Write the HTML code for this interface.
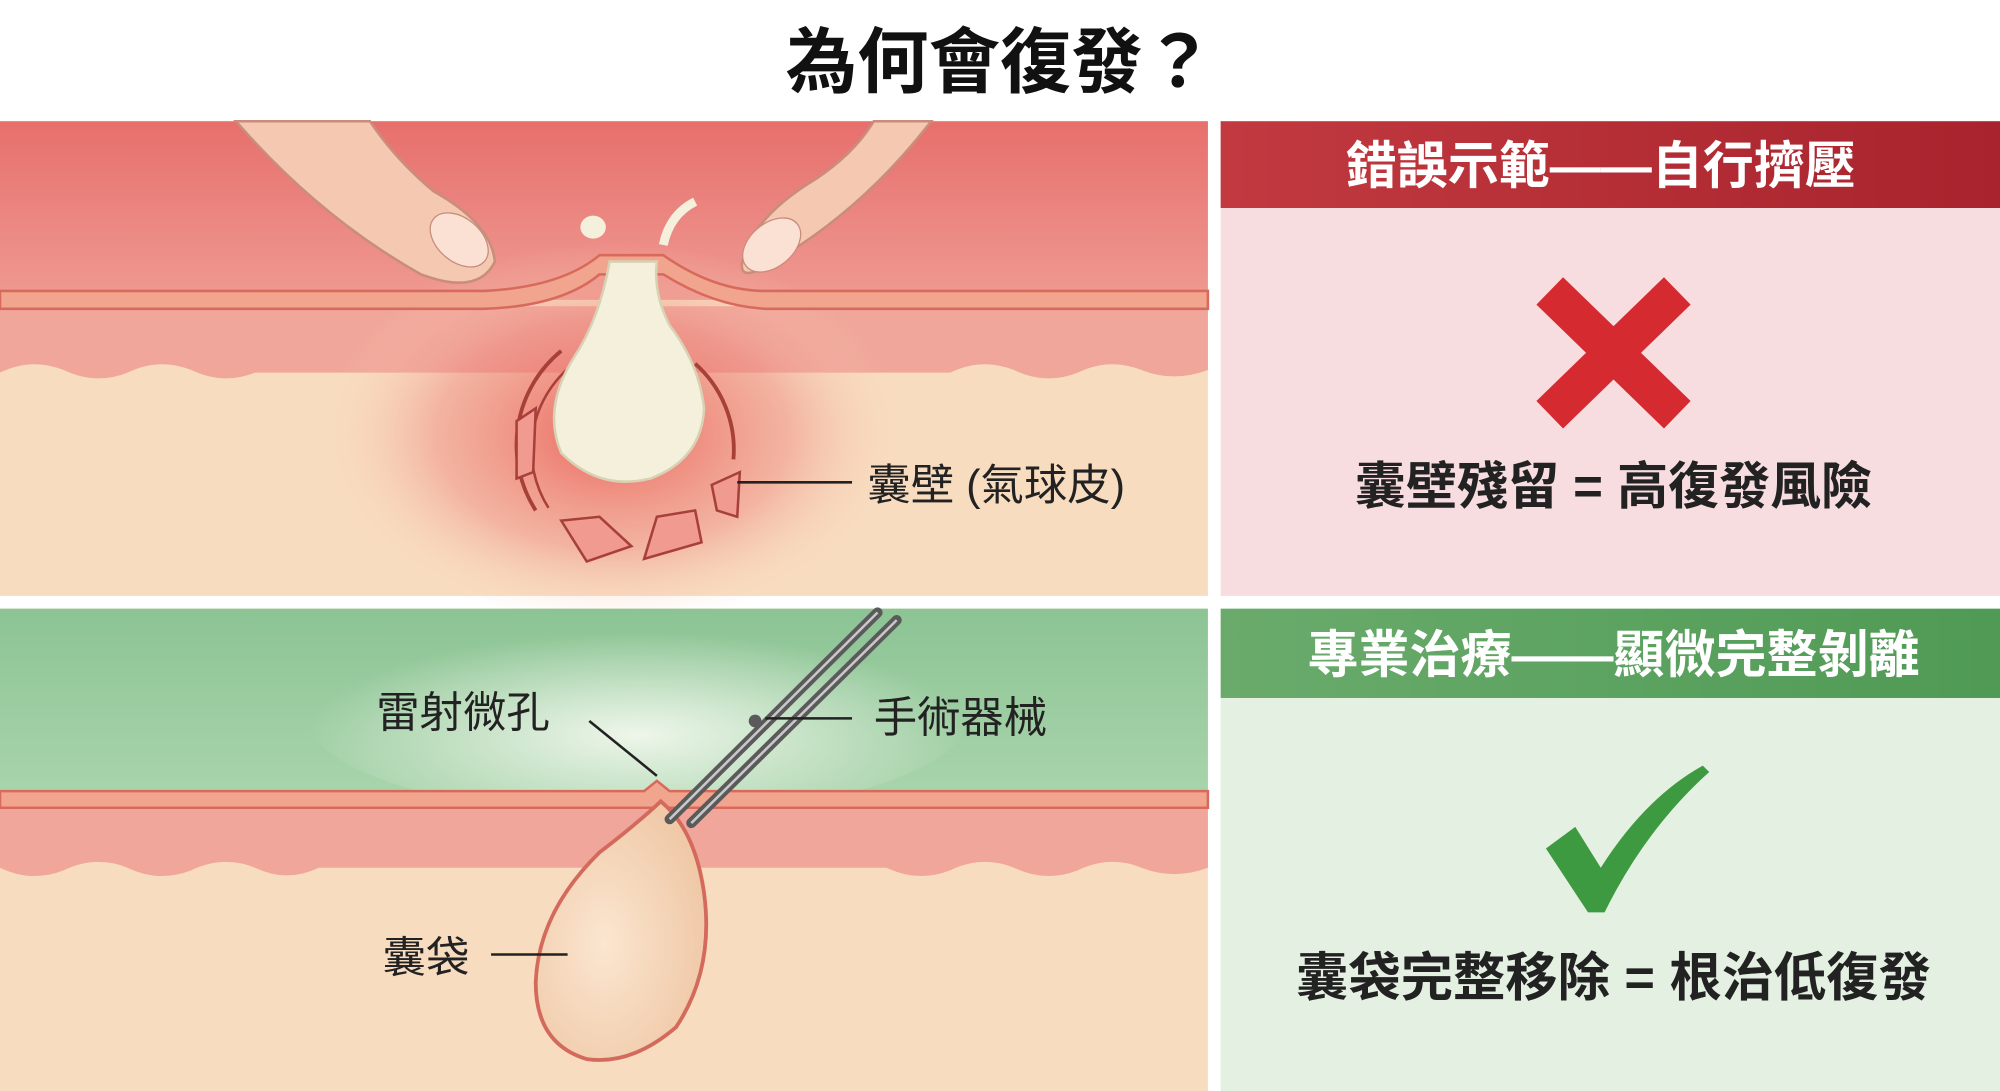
<!DOCTYPE html>
<html><head><meta charset="utf-8"><style>
html,body{margin:0;padding:0;background:#fff;}
svg{display:block;}
text{font-family:"Liberation Sans","Noto Sans CJK TC",sans-serif;}
</style></head><body>
<svg width="2000" height="1091" viewBox="0 0 1568 855" preserveAspectRatio="none" xmlns="http://www.w3.org/2000/svg">
<defs>
<linearGradient id="redTop" x1="0" y1="0" x2="0" y2="1"><stop offset="0" stop-color="#e76f6c"/><stop offset="1" stop-color="#ef9a92"/></linearGradient>
<radialGradient id="glow" cx="0.5" cy="0.5" r="0.5"><stop offset="0" stop-color="#e8504c" stop-opacity="0.85"/><stop offset="0.6" stop-color="#ee8a80" stop-opacity="0.5"/><stop offset="1" stop-color="#f8dcc0" stop-opacity="0"/></radialGradient>
<linearGradient id="greenTop" x1="0" y1="0" x2="0" y2="1"><stop offset="0" stop-color="#8cc494"/><stop offset="1" stop-color="#a9d4ac"/></linearGradient>
<radialGradient id="gglow" cx="0.5" cy="0.6" r="0.5"><stop offset="0" stop-color="#eef6ea"/><stop offset="1" stop-color="#eef6ea" stop-opacity="0"/></radialGradient>
<linearGradient id="hdrR" x1="0" y1="0" x2="1" y2="0"><stop offset="0" stop-color="#c23a40"/><stop offset="1" stop-color="#a8232d"/></linearGradient>
<linearGradient id="hdrG" x1="0" y1="0" x2="1" y2="0"><stop offset="0" stop-color="#6aab6c"/><stop offset="1" stop-color="#4f9a55"/></linearGradient>
<radialGradient id="bag" cx="0.4" cy="0.55" r="0.6"><stop offset="0" stop-color="#fbe6d0"/><stop offset="1" stop-color="#f0c9a8"/></radialGradient>
</defs>
<rect width="1568" height="855" fill="#fff"/>
<text x="784" y="68" text-anchor="middle" font-size="56" font-weight="bold" fill="#111">為何會復發？</text>

<g>
<rect x="0" y="95" width="947" height="372" fill="#f8dcc0"/>
<rect x="0" y="95" width="947" height="140" fill="url(#redTop)"/>
<path d="M0 240 L947 240 L947 290 Q920 300 895 290 Q870 280 845 292 Q820 302 795 290 Q770 280 745 292 L200 292 Q175 302 150 290 Q125 280 100 292 Q75 302 50 290 Q25 280 0 292 Z" fill="#f0a69a"/>
<ellipse cx="480" cy="340" rx="230" ry="150" fill="url(#glow)"/>
<path d="M0 228 L380 228 Q440 225 470 200 L520 200 Q560 228 600 228 L947 228 L947 242 L600 242 Q560 240 520 215 L470 215 Q440 240 380 242 L0 242 Z" fill="#f2a58e" stroke="#d86a5c" stroke-width="2"/>
<path d="M185 95 Q250 170 330 215 Q375 232 388 205 Q385 175 340 150 Q310 125 290 95 Z" fill="#f5c8b2" stroke="#c98d7c" stroke-width="2"/>
<ellipse cx="360" cy="188" rx="26" ry="17" fill="#fbe0d4" stroke="#c98d7c" transform="rotate(40 360 188)"/>
<path d="M730 95 Q680 160 615 200 Q578 225 582 205 Q590 170 640 140 Q670 120 685 95 Z" fill="#f5c8b2" stroke="#c98d7c" stroke-width="2"/>
<ellipse cx="605" cy="192" rx="26" ry="17" fill="#fbe0d4" stroke="#c98d7c" transform="rotate(-40 605 192)"/>
<path d="M420 400 A95 95 0 0 1 440 275" stroke="#a8403a" stroke-width="3" fill="none"/>
<path d="M430 398 A85 85 0 0 1 450 285" stroke="#a8403a" stroke-width="2" fill="none"/>
<path d="M545 285 A90 90 0 0 1 575 360" stroke="#a8403a" stroke-width="3" fill="none"/>
<path d="M478 205 Q470 250 450 280 Q425 320 440 355 Q470 385 510 375 Q550 360 552 320 Q548 285 525 255 Q512 230 515 205 Z" fill="#f4f0dc" stroke="#d8d2b4" stroke-width="2"/>
<ellipse cx="465" cy="178" rx="10" ry="9" fill="#f4f0dc"/>
<path d="M520 192 Q525 168 545 158" stroke="#f4f0dc" stroke-width="7" fill="none"/>
<path d="M440 408 L470 405 L495 428 L460 440 Z" fill="#f09a90" stroke="#a8403a" stroke-width="2"/>
<path d="M505 438 L515 405 L545 400 L550 425 Z" fill="#f09a90" stroke="#a8403a" stroke-width="2"/>
<path d="M558 380 L580 370 L578 405 L562 400 Z" fill="#f09a90" stroke="#a8403a" stroke-width="2"/>
<path d="M405 330 L420 320 L418 370 L405 375 Z" fill="#f09a90" stroke="#a8403a" stroke-width="2"/>
<line x1="578" y1="378" x2="668" y2="378" stroke="#222" stroke-width="2"/>
<text x="680" y="392" font-size="34" fill="#222">囊壁 (氣球皮)</text>
</g>

<rect x="957" y="95" width="611" height="372" fill="#f8dde0"/>
<rect x="957" y="95" width="611" height="68" fill="url(#hdrR)"/>
<text x="1255" y="144" text-anchor="middle" font-size="40" font-weight="bold" fill="#fff">錯誤示範——自行擠壓</text>
<g stroke="#d42a30" stroke-width="30"><line x1="1215" y1="228" x2="1315" y2="325"/><line x1="1315" y1="228" x2="1215" y2="325"/></g>
<text x="1265" y="395" text-anchor="middle" font-size="40" font-weight="bold" fill="#222">囊壁殘留 = 高復發風險</text>

<rect x="0" y="477" width="947" height="378" fill="#f8dcc0"/>
<rect x="0" y="477" width="947" height="145" fill="url(#greenTop)"/>
<ellipse cx="500" cy="560" rx="260" ry="80" fill="url(#gglow)"/>
<path d="M0 632 L947 632 L947 680 Q920 690 895 680 Q870 670 845 682 Q820 692 795 680 Q770 670 745 682 Q720 692 695 680 L250 680 Q225 692 200 680 Q175 670 150 682 Q125 692 100 680 Q75 670 50 682 Q25 692 0 680 Z" fill="#f0a69a"/>
<path d="M0 620 L505 620 L515 612 L525 620 L947 620 L947 633 L0 633 Z" fill="#f2a58e" stroke="#d86a5c" stroke-width="2"/>
<path d="M518 628 Q545 650 552 700 Q560 760 530 805 Q495 835 460 830 Q420 818 420 770 Q422 715 470 668 Q500 645 518 628 Z" fill="url(#bag)" stroke="#d46a5c" stroke-width="3"/>
<g stroke="#5a5a5a" stroke-width="8" fill="none" stroke-linecap="round"><line x1="688" y1="480" x2="525" y2="642"/><line x1="703" y1="486" x2="542" y2="645"/></g>
<g stroke="#c8c8c8" stroke-width="2" fill="none"><line x1="688" y1="480" x2="525" y2="642"/><line x1="703" y1="486" x2="542" y2="645"/></g>
<circle cx="592" cy="565" r="5" fill="#5a5a5a"/>
<text x="295" y="570" font-size="34" fill="#222">雷射微孔</text>
<line x1="462" y1="565" x2="515" y2="608" stroke="#222" stroke-width="2"/>
<line x1="600" y1="563" x2="668" y2="563" stroke="#222" stroke-width="2"/>
<text x="685" y="574" font-size="34" fill="#222">手術器械</text>
<text x="300" y="762" font-size="34" fill="#222">囊袋</text>
<line x1="385" y1="748" x2="445" y2="748" stroke="#222" stroke-width="2"/>

<rect x="957" y="477" width="611" height="378" fill="#e4f0e2"/>
<rect x="957" y="477" width="611" height="70" fill="url(#hdrG)"/>
<text x="1265" y="527" text-anchor="middle" font-size="40" font-weight="bold" fill="#fff">專業治療——顯微完整剝離</text>
<path d="M1212 665 L1235 648 L1255 680 Q1290 625 1335 600 L1340 605 Q1290 650 1258 715 L1245 715 Z" fill="#3e9a40"/>
<text x="1265" y="780" text-anchor="middle" font-size="41" font-weight="bold" fill="#222">囊袋完整移除 = 根治低復發</text>
</svg>
</body></html>
